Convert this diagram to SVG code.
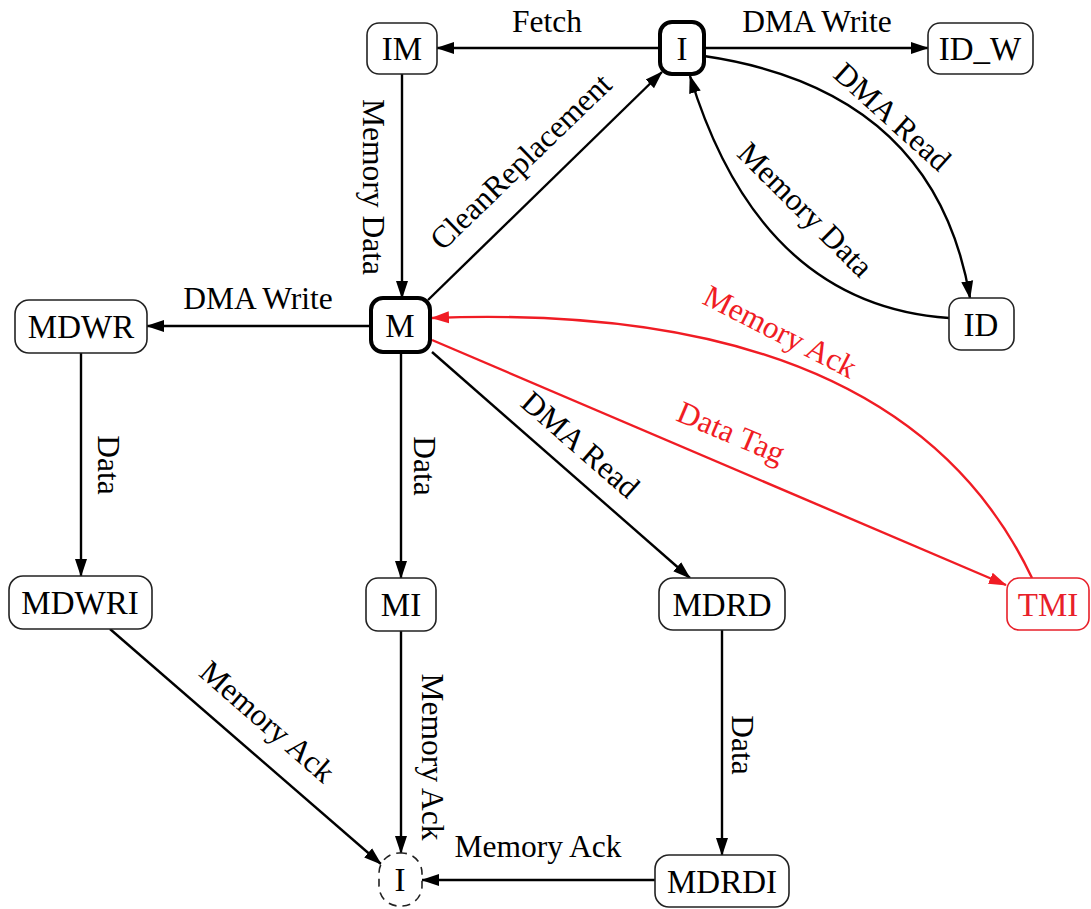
<svg xmlns="http://www.w3.org/2000/svg" width="1091" height="909" viewBox="0 0 1091 909">
<defs>
<style>
.node rect{fill:#fff;stroke:#222;stroke-width:1.6}
.node.thick rect{stroke:#000;stroke-width:4}
.node.dashed rect{stroke-dasharray:8 6}
.node.red rect{stroke:#e8202a}
.nt{font-family:"Liberation Serif","Times New Roman",serif;font-size:33px;text-anchor:middle;fill:#000}
.red .nt{fill:#e8202a}
.edge{fill:none;stroke:#000;stroke-width:2.4}
.edge.r{stroke:#f01c24}
.lb{font-family:"Liberation Serif","Times New Roman",serif;font-size:31.5px;text-anchor:middle;fill:#000}
.lb.r{fill:#f01c24}
</style>
<marker id="ah" markerUnits="userSpaceOnUse" markerWidth="18" markerHeight="14" refX="17" refY="7" orient="auto">
<path d="M0,1 L18,7 L0,13 z" fill="#000"/>
</marker>
<marker id="ahr" markerUnits="userSpaceOnUse" markerWidth="18" markerHeight="14" refX="17" refY="7" orient="auto">
<path d="M0,1 L18,7 L0,13 z" fill="#f01c24"/>
</marker>
</defs>
<rect width="1091" height="909" fill="#fff"/>

<g id="connectors">
<path class="edge" d="M660,48 L437,48" marker-end="url(#ah)"/>
<path class="edge" d="M704,48 L928,48" marker-end="url(#ah)"/>
<path class="edge" d="M704,56 Q935,90 970,298" marker-end="url(#ah)"/>
<path class="edge" d="M949,318 Q760,305 690,76" marker-end="url(#ah)"/>
<path class="edge" d="M428,300 L662,72" marker-end="url(#ah)"/>
<path class="edge" d="M402,74 L402,298" marker-end="url(#ah)"/>
<path class="edge" d="M371,326 L147,326" marker-end="url(#ah)"/>
<path class="edge" d="M81,353 L81,576" marker-end="url(#ah)"/>
<path class="edge" d="M401,352 L401,578" marker-end="url(#ah)"/>
<path class="edge" d="M432,352 L690,578" marker-end="url(#ah)"/>
<path class="edge r" d="M432,340 L1006,585" marker-end="url(#ahr)"/>
<path class="edge r" d="M1032,578 Q900,300 432,318" marker-end="url(#ahr)"/>
<path class="edge" d="M110,629 L381,864" marker-end="url(#ah)"/>
<path class="edge" d="M401,631 L401,853" marker-end="url(#ah)"/>
<path class="edge" d="M722,630 L722,855" marker-end="url(#ah)"/>
<path class="edge" d="M655,880 L422,880" marker-end="url(#ah)"/>

<text class="lb" x="547" y="32">Fetch</text>
<text class="lb" x="817" y="32">DMA Write</text>
<text class="lb" transform="translate(892,117) rotate(42)" y="10">DMA Read</text>
<text class="lb" transform="translate(805,210) rotate(45)" y="10">Memory Data</text>
<text class="lb" transform="translate(521,162) rotate(-44)" y="10">CleanReplacement</text>
<text class="lb" transform="translate(373,187) rotate(90)" y="10">Memory Data</text>
<text class="lb" x="258" y="309">DMA Write</text>
<text class="lb r" transform="translate(780,332) rotate(27)" y="10">Memory Ack</text>
<text class="lb r" transform="translate(731,433) rotate(23)" y="10">Data Tag</text>
<text class="lb" transform="translate(580,445) rotate(41)" y="10">DMA Read</text>
<text class="lb" transform="translate(108,465) rotate(90)" y="10">Data</text>
<text class="lb" transform="translate(424,466) rotate(90)" y="10">Data</text>
<text class="lb" transform="translate(267,722) rotate(41)" y="10">Memory Ack</text>
<text class="lb" transform="translate(432,757) rotate(90)" y="10">Memory Ack</text>
<text class="lb" transform="translate(742,745) rotate(90)" y="10">Data</text>
<text class="lb" x="538" y="857">Memory Ack</text>
</g>

<g id="node-IM" class="node"><rect x="367" y="23" width="70" height="51" rx="12"/><text class="nt" x="402" y="60">IM</text></g>
<g id="node-I" class="node thick"><rect x="660" y="22" width="44" height="52" rx="12"/><text class="nt" x="682" y="60">I</text></g>
<g id="node-ID_W" class="node"><rect x="928" y="23" width="105" height="51" rx="12"/><text class="nt" x="980" y="60">ID_W</text></g>
<g id="node-ID" class="node"><rect x="949" y="298" width="65" height="52" rx="12"/><text class="nt" x="981" y="336">ID</text></g>
<g id="node-MDWR" class="node"><rect x="15" y="300" width="132" height="53" rx="14"/><text class="nt" x="81" y="338">MDWR</text></g>
<g id="node-M" class="node thick"><rect x="371" y="298" width="59" height="54" rx="12"/><text class="nt" x="400" y="337">M</text></g>
<g id="node-MDWRI" class="node"><rect x="9" y="576" width="143" height="53" rx="14"/><text class="nt" x="80" y="614">MDWRI</text></g>
<g id="node-MI" class="node"><rect x="366" y="578" width="70" height="53" rx="12"/><text class="nt" x="401" y="616">MI</text></g>
<g id="node-MDRD" class="node"><rect x="659" y="578" width="126" height="52" rx="14"/><text class="nt" x="722" y="616">MDRD</text></g>
<g id="node-TMI" class="node red"><rect x="1007" y="578" width="82" height="52" rx="12"/><text class="nt" x="1048" y="616">TMI</text></g>
<g id="node-I-final" class="node dashed"><rect x="379" y="853" width="43" height="53" rx="20"/><text class="nt" x="400" y="891">I</text></g>
<g id="node-MDRDI" class="node"><rect x="655" y="855" width="134" height="52" rx="14"/><text class="nt" x="722" y="893">MDRDI</text></g>
</svg>
